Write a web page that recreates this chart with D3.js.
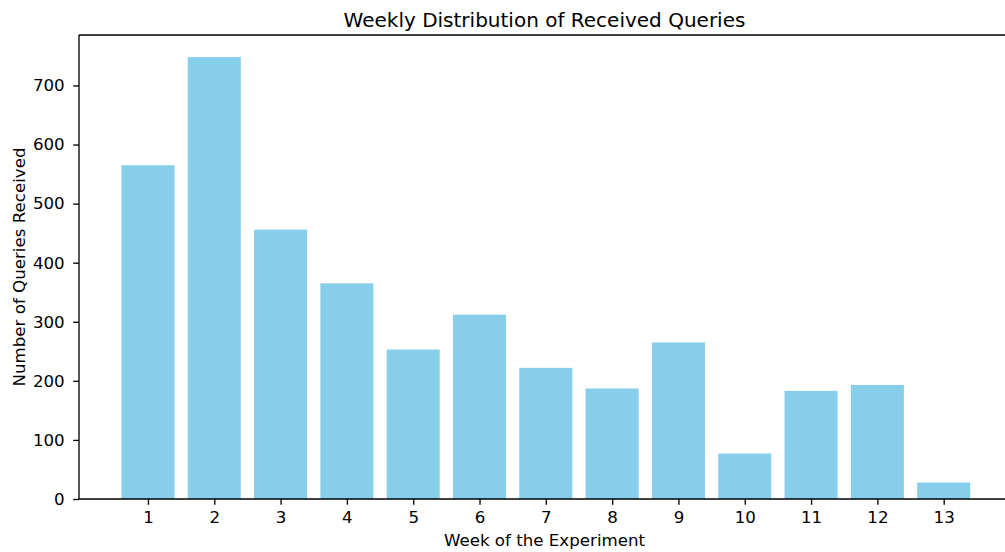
<!DOCTYPE html>
<html>
<head>
<meta charset="utf-8">
<script src="https://cdn.jsdelivr.net/npm/d3@7"></script>
<style>
  html, body { margin: 0; padding: 0; background: #fff; }
  svg { display: block; font-family: "DejaVu Sans", sans-serif; }
</style>
</head>
<body>
<svg id="chart" width="1005" height="552"></svg>
<script>
const weeks = [1, 2, 3, 4, 5, 6, 7, 8, 9, 10, 11, 12, 13];
const queries = [565, 748, 456, 365, 253, 312, 222, 187, 265, 77, 183, 193, 28];
const yTicks = [0, 100, 200, 300, 400, 500, 600, 700];
const titleText = "Weekly Distribution of Received Queries";
const xLabelText = "Week of the Experiment";
const yLabelText = "Number of Queries Received";

const mLeft = 79, mRight = 1010, mTop = 35, mBottom = 499;
const svg = d3.select("#chart");

const x = d3.scaleLinear().domain([-0.04, 14.0]).range([mLeft, mRight]);
const y = d3.scaleLinear().domain([0, d3.max(queries) * 1.05]).range([mBottom, mTop]);
const barW = 0.8;

// bars
svg.append("g").selectAll("rect").data(weeks).join("rect")
  .attr("x", (d) => x(d - barW / 2))
  .attr("width", (d) => x(d + barW / 2) - x(d - barW / 2))
  .attr("y", (d, i) => y(queries[i]))
  .attr("height", (d, i) => y(0) - y(queries[i]))
  .attr("fill", "#87CEEB");

// x axis
const xAxis = d3.axisBottom(x).tickValues(weeks).tickSize(5.8).tickPadding(6.5).tickFormat(d3.format("d"));
const gx = svg.append("g").attr("transform", `translate(0,${mBottom})`).call(xAxis);
gx.select(".domain").remove();
gx.selectAll("line").attr("stroke", "#000").attr("stroke-width", 1.33);
gx.selectAll("text").attr("font-size", "16.67px").attr("fill", "#000").attr("font-family", "DejaVu Sans");

// y axis
const yAxis = d3.axisLeft(y).tickValues(yTicks).tickSize(5.8).tickPadding(8.5).tickFormat(d3.format("d"));
const gy = svg.append("g").attr("transform", `translate(${mLeft},0)`).call(yAxis);
gy.select(".domain").remove();
gy.selectAll("line").attr("stroke", "#000").attr("stroke-width", 1.33);
gy.selectAll("text").attr("font-size", "16.67px").attr("fill", "#000").attr("font-family", "DejaVu Sans");

// spines
const sp = svg.append("g").attr("stroke", "#000").attr("stroke-width", 1.33).attr("fill", "none");
sp.append("line").attr("x1", mLeft).attr("x2", mLeft).attr("y1", mTop).attr("y2", mBottom);
sp.append("line").attr("x1", mLeft).attr("x2", mRight).attr("y1", mBottom).attr("y2", mBottom);
sp.append("line").attr("x1", mLeft).attr("x2", mRight).attr("y1", mTop).attr("y2", mTop);
sp.append("line").attr("x1", mRight).attr("x2", mRight).attr("y1", mTop).attr("y2", mBottom);

// title
svg.append("text").attr("x", (mLeft + mRight) / 2).attr("y", 26.5)
  .attr("text-anchor", "middle").attr("font-size", "20px").attr("fill", "#000")
  .text(titleText);

// x label
svg.append("text").attr("x", (mLeft + mRight) / 2).attr("y", 546)
  .attr("text-anchor", "middle").attr("font-size", "16.67px").attr("fill", "#000")
  .text(xLabelText);

// y label
svg.append("text").attr("transform", `translate(25,${(mTop + mBottom) / 2}) rotate(-90)`)
  .attr("text-anchor", "middle").attr("font-size", "16.67px").attr("fill", "#000")
  .text(yLabelText);
</script>
</body>
</html>
